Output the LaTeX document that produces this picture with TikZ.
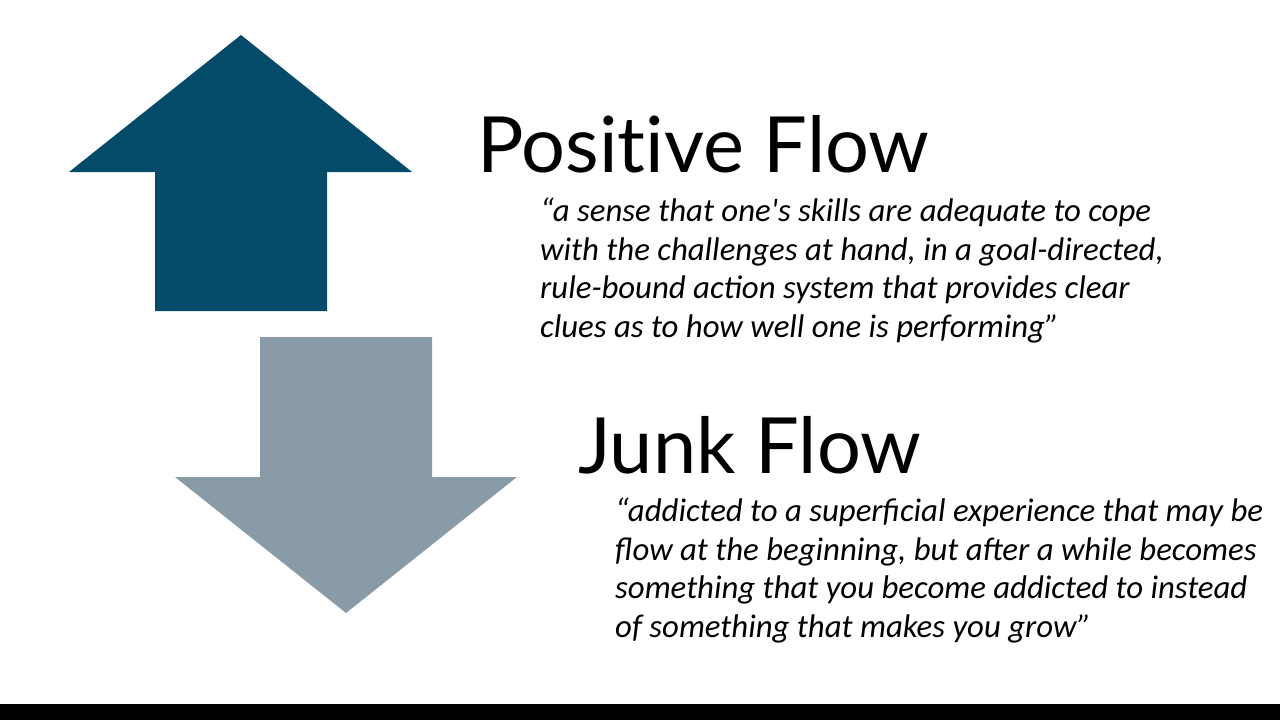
\documentclass[tikz,border=0pt]{standalone}
\usepackage{fontspec}
\setmainfont{Carlito}
\newfontfamily\headfont[Ligatures=NoCommon]{Lato}
\definecolor{updark}{RGB}{3,75,104}
\definecolor{downgrey}{RGB}{138,155,168}
\begin{document}
\begin{tikzpicture}[x=1pt,y=-1pt]
        \tikzstyle{heading}=[anchor=base west,inner sep=0pt,font=\headfont\fontsize{77.5}{90}\selectfont]
        \tikzstyle{quote}=[anchor=base west,inner sep=0pt,align=left,font=\itshape\fontsize{32.8}{38.4}\selectfont]
       \useasboundingbox (0,0) rectangle (1280,720);
       \fill[white] (0,0) rectangle (1280,720);
       \fill[black] (0,704) rectangle (1280,720);
       % arrows
       \fill[updark] (241,35) -- (412,172) -- (327,172) -- (327,311) -- (155,311) -- (155,172) -- (69,172) -- cycle;
       \fill[downgrey] (260,337) -- (432,337) -- (432,477) -- (517,477) -- (346,613) -- (175,477) -- (260,477) -- cycle;
       % texts (base of a quote = its last line)
       \node [heading] (positive) at (477,172) {Positive Flow};
       \node [quote] (posquote) at (540,337) {“a sense that one\textquotesingle s skills are adequate to cope\\with the challenges at hand, in a goal-directed,\\rule-bound action system that provides clear\\clues as to how well one is performing”};
       \node [heading] (junk) at (578,473) {Junk Flow};
       \node [quote] (junkquote) at (615,637) {“addicted to a superficial experience that may be\\flow at the beginning, but after a while becomes\\something that you become addicted to instead\\of something that makes you grow”};
      \end{tikzpicture}
\end{document}
